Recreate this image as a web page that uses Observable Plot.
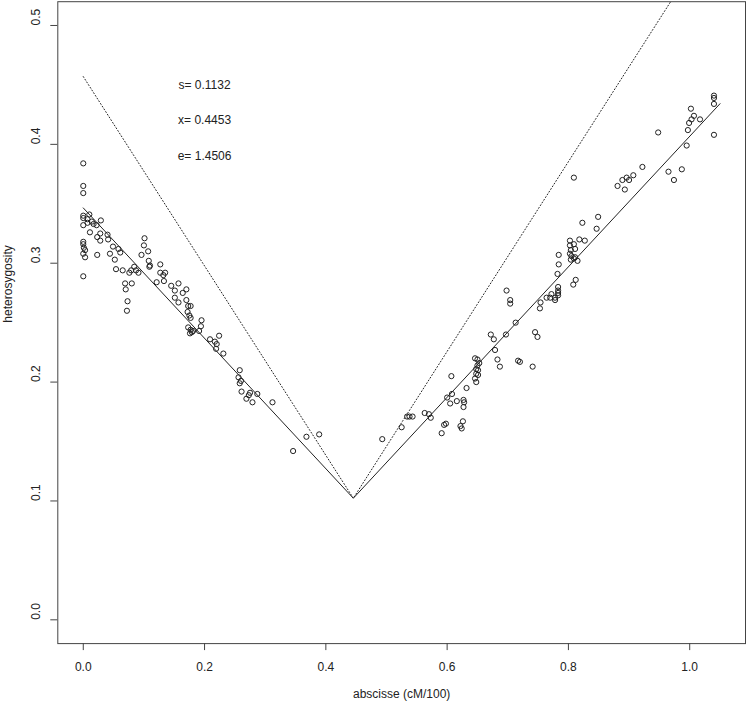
<!DOCTYPE html>
<html>
<head>
<meta charset="utf-8">
<script src="https://cdn.jsdelivr.net/npm/d3@7"></script>
<script src="https://cdn.jsdelivr.net/npm/@observablehq/plot@0.6"></script>
<style>
  html, body { margin: 0; padding: 0; background: #fff; }
  #chart { width: 746px; height: 704px; }
</style>
</head>
<body>
<div id="chart"></div>
<script>
// Observations left of the minimum: [abscisse, heterosygosity]
const leftPoints = [
  [0,0.384],[0,0.365],[0,0.359],[0,0.340],[0,0.338],[0,0.332],[0.007,0.337],[0.010,0.341],
  [0.007,0.334],[0.014,0.335],[0.017,0.333],[0.022,0.332],[0.029,0.336],[0.011,0.326],[0.023,0.322],
  [0.028,0.325],[0.028,0.319],[0.040,0.324],[0.041,0.320],[0,0.318],[0,0.316],[0.001,0.313],
  [0.003,0.311],[0,0.308],[0.003,0.305],[0.023,0.307],[0,0.289],[0.049,0.314],[0.058,0.312],
  [0.061,0.309],[0.044,0.308],[0.052,0.303],[0.054,0.295],[0.065,0.294],[0.076,0.292],[0.079,0.294],
  [0.084,0.297],[0.087,0.294],[0.091,0.292],[0.069,0.283],[0.070,0.278],[0.080,0.283],[0.073,0.268],
  [0.072,0.260],[0.101,0.321],[0.100,0.315],[0.107,0.310],[0.096,0.307],[0.108,0.302],[0.110,0.298],
  [0.109,0.297],[0.121,0.284],[0.127,0.299],[0.127,0.292],[0.132,0.290],[0.135,0.292],[0.133,0.285],
  [0.145,0.281],[0.157,0.283],[0.151,0.277],[0.164,0.275],[0.170,0.278],[0.151,0.271],[0.157,0.267],
  [0.170,0.269],[0.173,0.264],[0.177,0.264],[0.172,0.259],[0.175,0.256],[0.177,0.254],[0.173,0.246],
  [0.177,0.244],[0.179,0.242],[0.181,0.243],[0.176,0.241],[0.195,0.252],[0.194,0.247],[0.191,0.243],
  [0.209,0.236],[0.217,0.234],[0.224,0.239],[0.220,0.232],[0.219,0.228],[0.231,0.224],[0.258,0.210],
  [0.256,0.204],[0.260,0.201],[0.258,0.199],[0.261,0.192],[0.275,0.191],[0.273,0.189],[0.269,0.186],
  [0.279,0.183],[0.287,0.190],[0.312,0.183],[0.346,0.142],[0.368,0.154],[0.389,0.156]
];
// Observations right of the minimum
const rightPoints = [
  [0.493,0.152],[0.525,0.162],[0.534,0.171],[0.538,0.171],[0.543,0.171],[0.563,0.174],[0.570,0.173],
  [0.573,0.170],[0.591,0.157],[0.595,0.164],[0.598,0.165],[0.600,0.187],[0.607,0.205],[0.608,0.190],
  [0.605,0.182],[0.616,0.184],[0.627,0.185],[0.628,0.183],[0.627,0.179],[0.632,0.195],[0.626,0.167],
  [0.622,0.163],[0.624,0.161],[0.646,0.220],[0.650,0.219],[0.653,0.216],[0.650,0.214],[0.648,0.211],
  [0.651,0.210],[0.648,0.207],[0.651,0.206],[0.646,0.203],[0.648,0.200],[0.672,0.240],[0.677,0.236],
  [0.679,0.227],[0.683,0.219],[0.687,0.213],[0.697,0.240],[0.698,0.277],[0.704,0.269],[0.704,0.266],
  [0.713,0.250],[0.717,0.218],[0.720,0.217],[0.741,0.213],[0.745,0.242],[0.749,0.238],[0.753,0.262],
  [0.754,0.267],[0.764,0.271],[0.770,0.271],[0.772,0.274],[0.778,0.269],[0.778,0.271],[0.783,0.280],
  [0.783,0.277],[0.783,0.275],[0.783,0.273],[0.782,0.291],[0.784,0.299],[0.784,0.307],[0.808,0.282],
  [0.812,0.286],[0.8025,0.319],[0.809,0.316],[0.8025,0.315],[0.811,0.312],[0.804,0.311],[0.8025,0.308],
  [0.805,0.306],[0.811,0.305],[0.804,0.303],[0.809,0.304],[0.815,0.302],[0.818,0.320],[0.827,0.319],
  [0.809,0.372],[0.823,0.334],[0.849,0.339],[0.8465,0.329],[0.881,0.365],[0.889,0.370],[0.896,0.372],
  [0.900,0.370],[0.907,0.374],[0.893,0.362],[0.922,0.381],[0.948,0.410],[0.965,0.377],[0.974,0.370],
  [0.987,0.379],[0.995,0.399],[0.997,0.412],[0.999,0.418],[1.003,0.421],[1.007,0.424],[1.002,0.430],
  [1.017,0.421],[1.040,0.441],[1.040,0.439],[1.040,0.434],[1.040,0.408]
];
// Fitted V curve (solid) and reference curve (dotted)
const curveX = [0, 0.4453, 1.05];
const fitY = [0.3465, 0.1023, 0.4342];
const refY = [0.457, 0.1023, 0.585];
// Annotations
const annotLabels = ["s= 0.1132", "x= 0.4453", "e= 1.4506"];
const annotY = [0.45, 0.42, 0.39];
const annotX = 0.2;
// Ticks and axis titles
const xTicks = [0, 0.2, 0.4, 0.6, 0.8, 1.0];
const yTicks = [0, 0.1, 0.2, 0.3, 0.4, 0.5];
const xTitle = "abscisse (cM/100)";
const yTitle = "heterosygosity";

const points = [...leftPoints, ...rightPoints].map(([x, y]) => ({x, y}));
const fit = curveX.map((x, i) => ({x, y: fitY[i]}));
const ref = curveX.map((x, i) => ({x, y: refY[i]}));
const annots = annotLabels.map((t, i) => ({t, x: annotX, y: annotY[i]}));

const ink = "#222";
const chart = Plot.plot({
  width: 746,
  height: 704,
  marginTop: 1.2,
  marginLeft: 57.3,
  marginRight: 1,
  marginBottom: 60.9,
  x: {domain: [-0.042, 1.092]},
  y: {domain: [-0.02, 0.52]},
  style: {fontFamily: "'Liberation Sans', Arial, sans-serif", fontSize: "12px", background: "#fff", color: ink},
  marks: [
    Plot.frame({stroke: "#444", strokeWidth: 1}),
    Plot.axisX(xTicks, {tickSize: 7, tickPadding: 12, fontSize: 12, stroke: "#444", fill: ink,
      tickFormat: d => d.toFixed(1), label: null}),
    Plot.axisY(yTicks, {tickSize: 7, fill: "none", stroke: "#444", label: null}),
    Plot.text(yTicks, {y: d => d, text: d => d.toFixed(1), frameAnchor: "left", dx: -22,
      rotate: -90, fontSize: 12, fill: ink}),
    Plot.text([yTitle], {text: d => d, frameAnchor: "left", dx: -50, rotate: -90, fontSize: 12, fill: ink}),
    Plot.text([xTitle], {text: d => d, frameAnchor: "bottom", dy: 54, fontSize: 12, fill: ink}),
    Plot.line(ref, {x: "x", y: "y", stroke: ink, strokeWidth: 1, strokeDasharray: "1,2.2", clip: true}),
    Plot.line(fit, {x: "x", y: "y", stroke: ink, strokeWidth: 1, clip: true}),
    Plot.dot(points, {x: "x", y: "y", r: 2.6, stroke: ink, strokeWidth: 1, fill: "none"}),
    Plot.text(annots, {x: "x", y: "y", text: "t", fontSize: 12, fill: ink})
  ]
});
document.getElementById("chart").appendChild(chart);
</script>
</body>
</html>
